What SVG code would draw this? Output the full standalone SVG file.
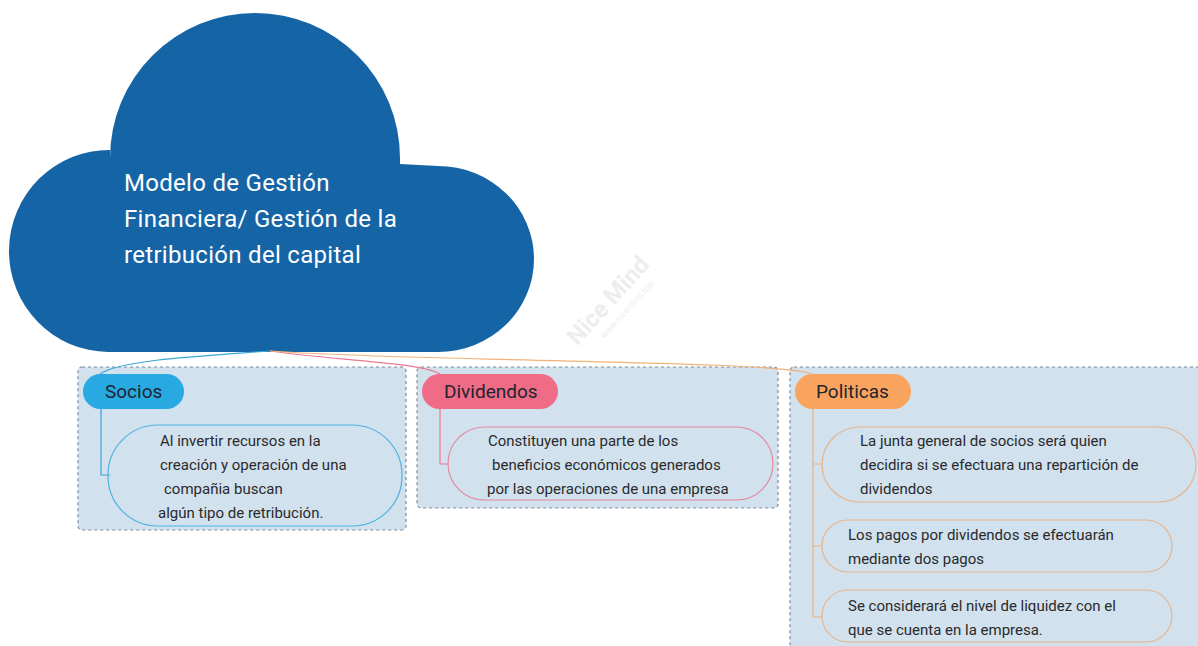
<svg xmlns="http://www.w3.org/2000/svg" width="1198" height="646" viewBox="0 0 1198 646">
<style>
.bg{fill:#d1e1ee;stroke:#7f8b96;stroke-width:1.2;stroke-dasharray:3 3}
.pill{stroke:none}
.lbl{font-family:Roboto,"Liberation Sans",sans-serif;font-size:19px;fill:#1c2530}
.txt{font-family:Roboto,"Liberation Sans",sans-serif;font-size:15px;fill:#2a2a2a}
.ctr{font-family:Roboto,"Liberation Sans",sans-serif;font-size:24px;letter-spacing:0.3px;fill:#ffffff}
.conn{fill:none;stroke-width:1.2}
.child{fill:none;stroke-width:1.2}
</style>
<rect width="1198" height="646" fill="#ffffff"/>
<g id="watermark" transform="rotate(-48 614 306)" opacity="0.4">
<text x="614" y="306" font-family="Roboto,'Liberation Sans',sans-serif" font-size="24" font-weight="bold" fill="#d4d4d4" text-anchor="middle">Nice Mind</text>
<text x="620" y="321" font-family="Roboto,'Liberation Sans',sans-serif" font-size="9" fill="#d4d4d4" text-anchor="middle">www.nicemind.top</text>
</g>
<g id="node-center">
<path d="M 108 352 A 100 101 0 0 1 110 150 L 110 158 A 145 145 0 0 1 400 158 L 400 164 L 438 166 A 96 93 0 0 1 438 352 Z" fill="#1565a6"/>
<text class="ctr" x="124" y="191">Modelo de Gestión</text>
<text class="ctr" x="124" y="227">Financiera/ Gestión de la</text>
<text class="ctr" x="124" y="263">retribución del capital</text>
</g>
<g id="group-boxes">
<rect class="bg" x="78" y="367" width="328" height="163" rx="4"/>
<rect class="bg" x="417" y="367" width="361" height="141" rx="4"/>
<rect class="bg" x="790" y="367" width="412" height="284" rx="4"/>
</g>
<g id="connectors">
<path class="conn" stroke="#3aa6d8" d="M 270 351 C 200 356 120 360 100 374"/>
<path class="conn" stroke="#ec7a90" d="M 270 351 C 330 360 420 362 440 374"/>
<path class="conn" stroke="#f2b27a" d="M 270 351 C 420 362 780 360 812 374"/>
<path class="conn" stroke="#3aa6d8" d="M 101 409 V 475 H 110"/>
<path class="conn" stroke="#ec7a90" d="M 440 409 V 464 H 448"/>
<path class="conn" stroke="#f2b27a" d="M 813 409 V 617 H 822 M 813 464 H 822 M 813 546 H 822"/>
</g>
<g id="node-socios">
<rect class="pill" x="83" y="374" width="101" height="35" rx="17.5" fill="#29a9e1"/>
<text class="lbl" x="105" y="398">Socios</text>
</g>
<g id="node-socios-1">
<rect class="child" x="108" y="425" width="294" height="101" rx="50" stroke="#4fb3e2"/>
<text class="txt" x="160" y="446">Al invertir recursos en la</text>
<text class="txt" x="160" y="470">creación y operación de una</text>
<text class="txt" x="164" y="494">compañia buscan</text>
<text class="txt" x="158" y="518">algún tipo de retribución.</text>
</g>
<g id="node-dividendos">
<rect class="pill" x="422" y="374" width="136" height="35" rx="17.5" fill="#f06b86"/>
<text class="lbl" x="444" y="398">Dividendos</text>
</g>
<g id="node-dividendos-1">
<rect class="child" x="448" y="427" width="325" height="73" rx="36.5" stroke="#e58aa0"/>
<text class="txt" x="488" y="446">Constituyen una parte de los</text>
<text class="txt" x="492" y="470">beneficios económicos generados</text>
<text class="txt" x="487" y="494">por las operaciones de una empresa</text>
</g>
<g id="node-politicas">
<rect class="pill" x="795" y="374" width="116" height="35" rx="17.5" fill="#f9a45e"/>
<text class="lbl" x="816" y="398">Politicas</text>
</g>
<g id="node-politicas-1">
<rect class="child" x="822" y="427" width="374" height="75" rx="37.5" stroke="#e8b48a"/>
<text class="txt" x="860" y="446">La junta general de socios será quien</text>
<text class="txt" x="860" y="470">decidira si se efectuara una repartición de</text>
<text class="txt" x="860" y="494">dividendos</text>
</g>
<g id="node-politicas-2">
<rect class="child" x="822" y="520" width="350" height="52" rx="26" stroke="#e8b48a"/>
<text class="txt" x="848" y="540">Los pagos por dividendos se efectuarán</text>
<text class="txt" x="848" y="564">mediante dos pagos</text>
</g>
<g id="node-politicas-3">
<rect class="child" x="822" y="590" width="350" height="52" rx="26" stroke="#e8b48a"/>
<text class="txt" x="848" y="611">Se considerará el nivel de liquidez con el</text>
<text class="txt" x="848" y="635">que se cuenta en la empresa.</text>
</g>
</svg>
